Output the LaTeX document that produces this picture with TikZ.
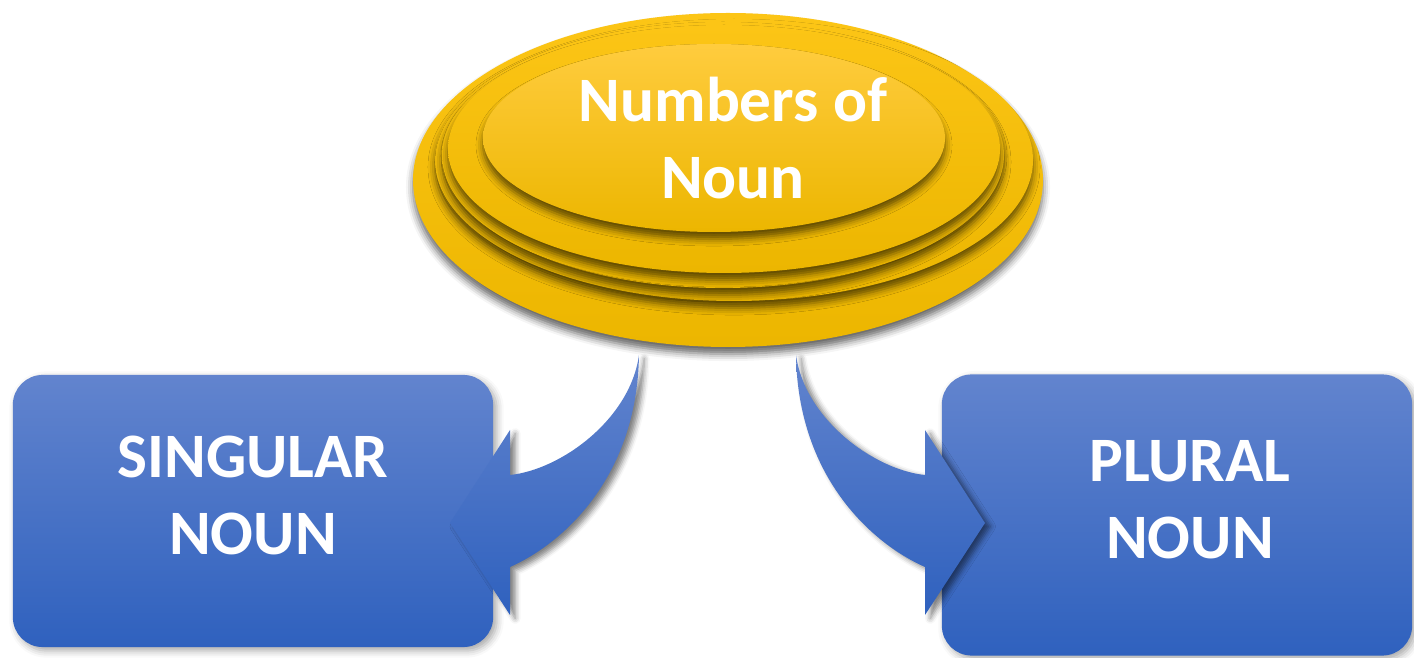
\documentclass[tikz,border=0pt]{standalone}
\usepackage{fontspec}
\setmainfont{Carlito}
\usepackage{tikz}
\usetikzlibrary{shapes.geometric, shadows.blur}
\definecolor{goldtop}{RGB}{252,197,22}
\definecolor{goldbot}{RGB}{236,182,0}
\definecolor{goldlight}{RGB}{255,204,62}
\definecolor{bluetop}{RGB}{98,132,206}
\definecolor{bluebot}{RGB}{47,97,190}
\tikzset{
  disc/.style={top color=goldtop, bottom color=goldbot,
    blur shadow={shadow xshift=0pt, shadow yshift=-2pt,
      shadow blur radius=2pt, shadow opacity=60}},
  topdisc/.style={disc, top color=goldlight},
  disctext/.style={text=white, align=center,
    font=\fontsize{18}{21.9}\selectfont\bfseries},
  nounbox/.style={rectangle, rounded corners=8.5pt,
    top color=bluetop, bottom color=bluebot,
    minimum width=4.8cm, minimum height=2.72cm,
    text=white, align=center, text depth=9pt,
    font=\fontsize{18}{21.9}\selectfont\bfseries,
    blur shadow={shadow xshift=1pt, shadow yshift=-1pt,
      shadow blur radius=2pt, shadow opacity=35}},
  blockarrow/.style={top color=bluetop, bottom color=bluebot,
    blur shadow={shadow xshift=1.5pt, shadow yshift=-1pt,
      shadow blur radius=1.5pt, shadow opacity=50}}
}

\begin{document}
\begin{tikzpicture}[x=0.01cm, y=-0.01cm]
    \useasboundingbox (0,0) rectangle (1414,658);

    % Stacked discs
    \path[disc] (728,180) ellipse [x radius=315, y radius=167];
    \path[disc] (734,160) ellipse [x radius=299, y radius=141];
    \path[disc] (723,155) ellipse [x radius=281, y radius=133];
    \path[disc] (724,149) ellipse [x radius=276, y radius=124];
    \path[topdisc] (714,138) ellipse [x radius=231, y radius=94];
    \node[disctext] (numbers) at (733,138) {Numbers of\\Noun};

    % Boxes
    \node[nounbox] (singular) at (253,511) {SINGULAR\\NOUN};
    \node[nounbox, minimum width=4.7cm, minimum height=2.81cm] (plural) at (1177,515) {\hspace*{0.26cm}PLURAL\\\hspace*{0.26cm}NOUN};

    % Curved arrows
    \path[blockarrow] (639,355) .. controls (630,420) and (560,470) .. (510,475)
        -- (510,430) -- (450,523) -- (510,615) -- (510,567)
        .. controls (560,545) and (637,480) .. cycle;
    \path[blockarrow] (796,355) .. controls (805,420) and (875,470) .. (925,475)
        -- (925,430) -- (985,523) -- (925,615) -- (925,567)
        .. controls (875,545) and (798,480) .. cycle;
\end{tikzpicture}
\end{document}
